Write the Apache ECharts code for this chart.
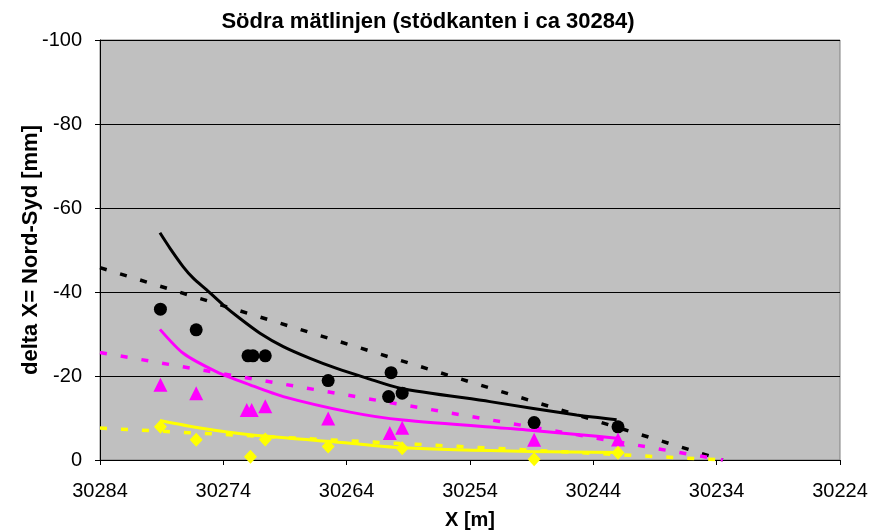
<!DOCTYPE html>
<html>
<head>
<meta charset="utf-8">
<script src="https://cdn.jsdelivr.net/npm/echarts@6/dist/echarts.min.js"></script>
<style>
  html, body { margin: 0; padding: 0; background: #ffffff; }
  #chart { width: 885px; height: 530px; }
</style>
</head>
<body>
<div id="chart"></div>
<script>
// Axis tick positions along the measuring line (X, metres)
const xTicks = [30284, 30274, 30264, 30254, 30244, 30234, 30224];

// Measured points: black circles
const circleX = [30279.1, 30276.2, 30272.0, 30271.6, 30270.6, 30265.5, 30260.4, 30260.6, 30259.5, 30248.8, 30242.0];
const circleY = [-35.9, -31.0, -24.8, -24.8, -24.8, -18.9, -20.8, -15.1, -15.9, -8.9, -7.9];

// Measured points: magenta triangles
const triangleX = [30279.1, 30276.2, 30272.1, 30271.7, 30270.6, 30265.5, 30260.5, 30259.5, 30248.8, 30242.0];
const triangleY = [-17.9, -15.9, -11.9, -11.9, -12.8, -9.9, -6.4, -7.7, -4.8, -4.9];

// Measured points: yellow diamonds
const diamondX = [30279.1, 30276.2, 30271.8, 30270.6, 30265.5, 30259.5, 30248.8, 30242.0];
const diamondY = [-7.9, -4.8, -0.8, -4.9, -3.2, -2.8, -0.2, -1.7];

// Calculated curves (solid)
const blackCurveX = [30279.14, 30278.32, 30277.25, 30276.44, 30275.35, 30274.00, 30272.65, 30271.03,
                     30269.14, 30266.97, 30264.81, 30262.38, 30259.68, 30252.38, 30245.35, 30242.11];
const blackCurveY = [-54.1, -50.4, -46.0, -43.3, -40.5, -36.9, -33.7, -30.2,
                     -27.0, -24.2, -21.8, -19.5, -17.1, -13.9, -10.7, -9.6];

const magentaCurveX = [30279.14, 30277.25, 30274.54, 30271.84, 30269.14, 30263.73, 30259.43, 30249.14, 30245.08, 30242.08];
const magentaCurveY = [-31.1, -25.4, -21.0, -17.9, -15.1, -11.4, -9.5, -7.1, -6.0, -5.2];

const yellowCurveX = [30279.14, 30275.89, 30271.84, 30263.73, 30259.43, 30249.14, 30242.08];
const yellowCurveY = [-9.4, -7.6, -6.0, -4.0, -2.9, -2.0, -1.8];

// Straight reference lines (dashed)
const refX = [30284, 30233.5];
const refBlack = [-45.8, 0];
const refMagenta = [-25.6, 0];
const refYellow = [-7.6, 0];

const pairs = (xs, ys) => xs.map((x, i) => [x, ys[i]]);

const FONT = '"Liberation Sans", Arial, sans-serif';

const curve = (name, xs, ys, color) => ({
  name, type: 'line', data: pairs(xs, ys), symbol: 'none',
  smooth: 0.25, z: 2,
  lineStyle: { color, width: 3 }
});
const ref = (name, ys, color) => ({
  name, type: 'line', data: pairs(refX, ys), symbol: 'none', z: 1,
  lineStyle: { color, width: 3.5, type: [7, 14], cap: 'butt' }
});
const points = (name, xs, ys, symbol, size, color) => ({
  name, type: 'scatter', data: pairs(xs, ys), symbol, symbolSize: size, z: 3,
  itemStyle: { color, opacity: 1 }
});

const chart = echarts.init(document.getElementById('chart'), null, { renderer: 'canvas' });
chart.setOption({
  animation: false,
  backgroundColor: '#ffffff',
  title: {
    text: 'Södra mätlinjen (stödkanten i ca 30284)',
    left: 423, top: 6, textAlign: 'center',
    textStyle: { fontFamily: FONT, fontSize: 22, fontWeight: 'bold', color: '#000' }
  },
  grid: {
    left: 100, right: 45, top: 40, bottom: 70,
    containLabel: false, outerBoundsMode: 'none',
    show: true, backgroundColor: '#c0c0c0', borderColor: '#808080', borderWidth: 1
  },
  xAxis: {
    type: 'value', min: 30224, max: 30284, inverse: true,
    name: 'X [m]', nameLocation: 'middle', nameGap: 50, nameMoveOverlap: false,
    nameTextStyle: { fontFamily: FONT, fontSize: 20, fontWeight: 'bold', color: '#000' },
    axisLine: { show: true, onZero: false, lineStyle: { color: '#000', width: 1 } },
    axisTick: { show: true, length: 5, lineStyle: { color: '#000' }, customValues: xTicks },
    axisLabel: {
      fontFamily: FONT, fontSize: 20, color: '#000', margin: 21,
      customValues: xTicks, formatter: v => String(v)
    },
    splitLine: { show: false }
  },
  yAxis: {
    type: 'value', min: -100, max: 0, interval: 20, inverse: true,
    name: 'delta X= Nord-Syd [mm]', nameLocation: 'middle', nameGap: 58, nameMoveOverlap: false,
    nameTextStyle: { fontFamily: FONT, fontSize: 22, fontWeight: 'bold', color: '#000' },
    axisLine: { show: true, onZero: false, lineStyle: { color: '#000', width: 1 } },
    axisTick: { show: true, length: 5, lineStyle: { color: '#000' } },
    axisLabel: { fontFamily: FONT, fontSize: 20, color: '#000', margin: 18, formatter: v => String(v) },
    splitLine: { show: true, lineStyle: { color: '#000', width: 1 } }
  },
  series: [
    ref('ref-black', refBlack, '#000000'),
    ref('ref-magenta', refMagenta, '#ff00ff'),
    ref('ref-yellow', refYellow, '#ffff00'),
    curve('curve-black', blackCurveX, blackCurveY, '#000000'),
    curve('curve-magenta', magentaCurveX, magentaCurveY, '#ff00ff'),
    curve('curve-yellow', yellowCurveX, yellowCurveY, '#ffff00'),
    points('circles', circleX, circleY, 'circle', 13, '#000000'),
    points('triangles', triangleX, triangleY, 'triangle', 14, '#ff00ff'),
    points('diamonds', diamondX, diamondY, 'diamond', [13, 14], '#ffff00')
  ]
});
</script>
</body>
</html>
